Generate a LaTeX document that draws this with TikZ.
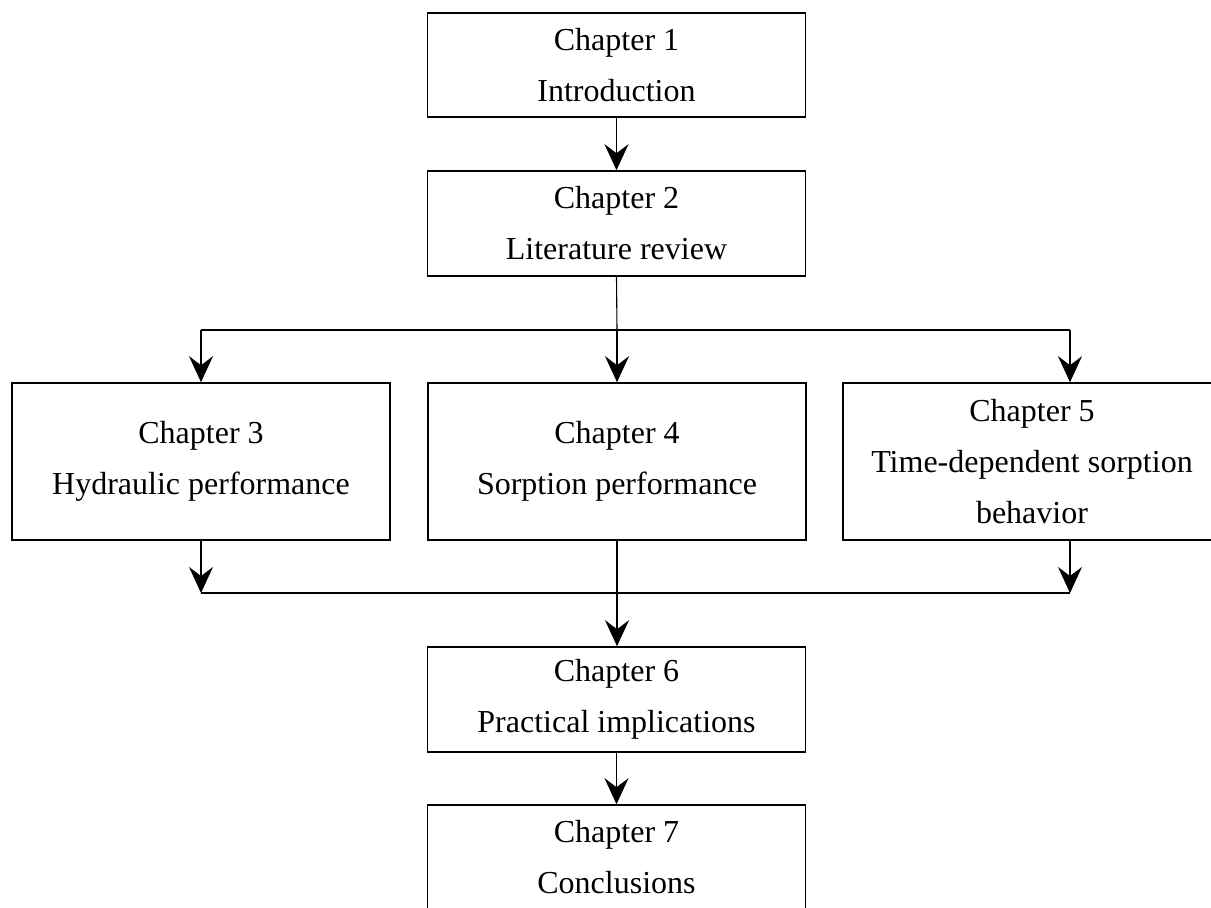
\documentclass[tikz,border=0pt]{standalone}
\usepackage{fontspec}
\setmainfont{Liberation Serif}
\usetikzlibrary{arrows.meta}
\begin{document}
\begin{tikzpicture}[x=1pt,y=-1pt,
  chbox/.style={draw,line width=1.6pt,minimum width=378pt,inner sep=0pt,align=center,
    font=\fontsize{32}{51}\selectfont},
  conn/.style={line width=1.1pt},
  bus/.style={line width=1.8pt},
  tip/.style={-{Stealth[length=26pt,width=24pt,inset=9pt]}}]
\useasboundingbox (0,0) rectangle (1211,908);
\clip (0,0) rectangle (1211,908);
\node[chbox,minimum height=104pt] (c1) at (616.5,65) {Chapter 1\\Introduction};
\node[chbox,minimum height=105pt] (c2) at (616.5,223.5) {Chapter 2\\Literature review};
\node[chbox,minimum height=157pt] (c3) at (201,461.5) {Chapter 3\\Hydraulic performance};
\node[chbox,minimum height=157pt] (c4) at (617,461.5) {Chapter 4\\Sorption performance};
\node[chbox,minimum height=157pt] (c5) at (1032,461.5) {Chapter 5\\Time-dependent sorption\\behavior};
\node[chbox,minimum height=105pt] (c6) at (616.5,699.5) {Chapter 6\\Practical implications};
\node[chbox,minimum height=104pt] (c7) at (616.5,857) {Chapter 7\\Conclusions};
\coordinate (tl) at (201,330);
\coordinate (tm) at (617,330);
\coordinate (tr) at (1070,330);
\coordinate (bl) at (201,593);
\coordinate (br) at (1070,593);
\draw[conn,tip] (c1.south) -- (c2.north);
\draw[conn] (c2.south) -- (tm);
\draw[bus] (tl) -- (tr);
\draw[conn,tip] (tl) -- (c3.north);
\draw[conn,tip] (tm) -- (c4.north);
\draw[conn,tip] (tr) -- (tr |- c5.north);
\draw[conn,tip] (c3.south) -- (bl);
\draw[conn,tip] (br |- c5.south) -- (br);
\draw[bus] (bl) -- (br);
\draw[conn,tip] (c4.south) -- (c4.south |- c6.north);
\draw[conn,tip] (c6.south) -- (c7.north);
\end{tikzpicture}
\end{document}
